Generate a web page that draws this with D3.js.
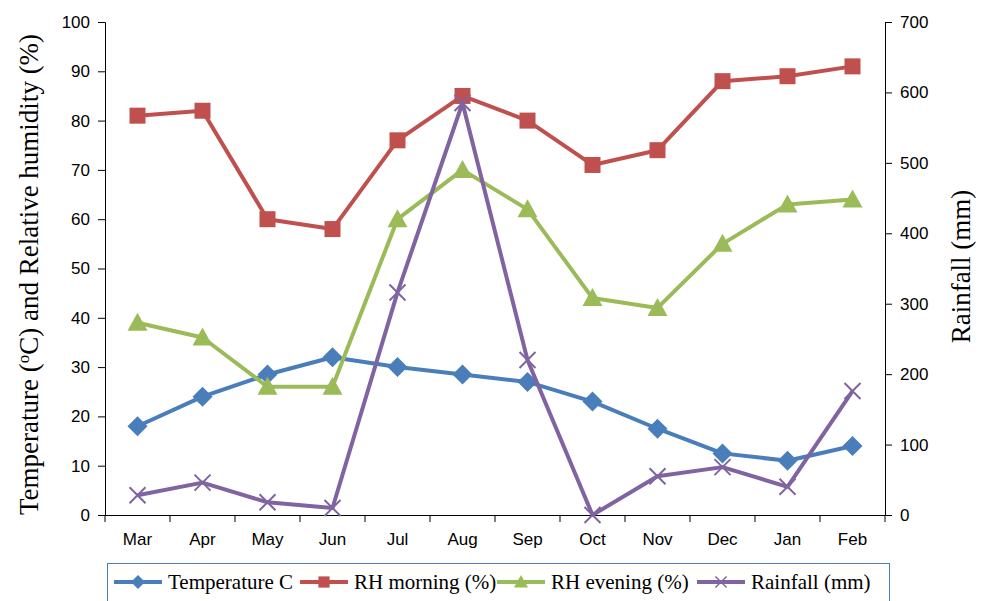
<!DOCTYPE html>
<html>
<head>
<meta charset="utf-8">
<script src="https://cdn.jsdelivr.net/npm/d3@7"></script>
<style>
  body { margin: 0; background: #fff; }
  svg { display: block; }
  .tick text { font-family: "Liberation Sans", Arial, sans-serif; font-size: 17px; fill: #000; }
  .axis path, .axis line { stroke: #000; stroke-width: 1; }
</style>
</head>
<body>
<svg id="chart" width="984" height="601"></svg>
<script>
var months = ["Mar", "Apr", "May", "Jun", "Jul", "Aug", "Sep", "Oct", "Nov", "Dec", "Jan", "Feb"];
var temperature = [18, 24, 28.5, 32, 30, 28.5, 27, 23, 17.5, 12.5, 11, 14];
var rhMorning = [81, 82, 60, 58, 76, 85, 80, 71, 74, 88, 89, 91];
var rhEvening = [39, 36, 26, 26, 60, 70, 62, 44, 42, 55, 63, 64];
var rainfall = [28, 46, 18, 10, 316, 585, 220, 0, 55, 68, 40, 176];
var leftTicks = [0, 10, 20, 30, 40, 50, 60, 70, 80, 90, 100];
var rightTicks = [0, 100, 200, 300, 400, 500, 600, 700];

var svg = d3.select("#chart"),
	plotLeft = 105, plotRight = 885, plotTop = 22, plotBottom = 515;

var x = d3.scaleBand().domain(months).range([plotLeft, plotRight]),
	yL = d3.scaleLinear().domain([0, 100]).range([plotBottom, plotTop]),
	yR = d3.scaleLinear().domain([0, 700]).range([plotBottom, plotTop]);

// axes
svg.append("g").attr("class", "axis")
	.attr("transform", "translate(" + plotLeft + ",0)")
	.call(d3.axisLeft(yL).tickValues(leftTicks).tickSize(7).tickSizeOuter(7).tickPadding(8));
svg.append("g").attr("class", "axis")
	.attr("transform", "translate(" + plotRight + ",0)")
	.call(d3.axisRight(yR).tickValues(rightTicks).tickSize(7).tickSizeOuter(7).tickPadding(8));
var xAxis = svg.append("g").attr("class", "axis")
	.attr("transform", "translate(0," + plotBottom + ")")
	.call(d3.axisBottom(x).tickSize(0).tickSizeOuter(0).tickPadding(18));
// tick marks between categories
xAxis.selectAll(".sep")
	.data(d3.range(months.length + 1))
	.enter().append("line")
	.attr("x1", function (i) { return plotLeft + i * x.step(); })
	.attr("x2", function (i) { return plotLeft + i * x.step(); })
	.attr("y1", 0).attr("y2", 7)
	.attr("stroke", "#000");

// axis titles
var lt = svg.append("text")
	.attr("transform", "translate(38," + ((plotTop + plotBottom) / 2 + 6) + ") rotate(-90)")
	.attr("text-anchor", "middle")
	.style("font-family", "'Liberation Serif', 'Times New Roman', serif")
	.style("font-size", "27px");
lt.append("tspan").text("Temperature (");
lt.append("tspan").attr("baseline-shift", "super").style("font-size", "17px").text("o");
lt.append("tspan").text("C) and Relative humidity (%)");

svg.append("text")
	.attr("transform", "translate(970," + ((plotTop + plotBottom) / 2 - 2) + ") rotate(-90)")
	.attr("text-anchor", "middle")
	.style("font-family", "'Liberation Serif', 'Times New Roman', serif")
	.style("font-size", "27px")
	.text("Rainfall (mm)");

var cx = function (d, i) { return x(months[i]) + x.bandwidth() / 2; };

var series = [
	{name: "Temperature C", values: temperature, scale: yL, color: "#4A7EBB", marker: "diamond"},
	{name: "RH morning (%)", values: rhMorning, scale: yL, color: "#C0504D", marker: "square"},
	{name: "RH evening (%)", values: rhEvening, scale: yL, color: "#9BBB59", marker: "triangle"},
	{name: "Rainfall (mm)", values: rainfall, scale: yR, color: "#8064A2", marker: "cross"}
];

function drawMarker(g, type, color) {
	if (type === "diamond") {
		g.append("path").attr("d", "M0,-10L10,0L0,10L-10,0Z").attr("fill", color);
	} else if (type === "square") {
		g.append("rect").attr("x", -8).attr("y", -8).attr("width", 16).attr("height", 16).attr("fill", color);
	} else if (type === "triangle") {
		g.append("path").attr("d", "M0,-10L10,8L-10,8Z").attr("fill", color);
	} else {
		g.append("path").attr("d", "M-8,-8L8,8M-8,8L8,-8").attr("stroke", color).attr("stroke-width", 2).attr("fill", "none");
	}
}

series.forEach(function (s) {
	var line = d3.line().x(cx).y(function (d) { return s.scale(d); });
	svg.append("path")
		.datum(s.values)
		.attr("d", line)
		.attr("fill", "none")
		.attr("stroke", s.color)
		.attr("stroke-width", 4)
		.attr("stroke-linejoin", "round");
	svg.selectAll(null)
		.data(s.values)
		.enter().append("g")
		.attr("transform", function (d, i) { return "translate(" + cx(d, i) + "," + s.scale(d) + ")"; })
		.each(function () { drawMarker(d3.select(this), s.marker, s.color); });
});

// legend
svg.append("rect")
	.attr("x", 107.5).attr("y", 563.5).attr("width", 782).attr("height", 45)
	.attr("fill", "#fff").attr("stroke", "#4A7EBB").attr("stroke-width", 1);
var legendX = [114, 300, 497, 697];
series.forEach(function (s, i) {
	var g = svg.append("g").attr("transform", "translate(" + legendX[i] + ",582)");
	g.append("line").attr("x1", 0).attr("x2", 48).attr("stroke", s.color).attr("stroke-width", 4);
	var m = g.append("g").attr("transform", "translate(24,0) scale(0.7)");
	drawMarker(m, s.marker, s.color);
	g.append("text")
		.attr("x", 54).attr("y", 7)
		.style("font-family", "'Liberation Serif', 'Times New Roman', serif")
		.style("font-size", "21px")
		.text(s.name);
});
</script>
</body>
</html>
